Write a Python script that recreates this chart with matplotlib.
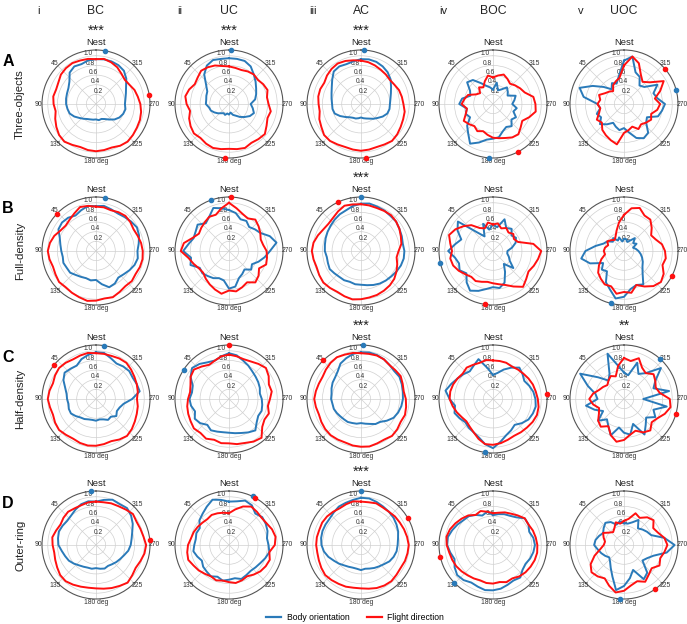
import numpy as np
import matplotlib.pyplot as plt
from matplotlib.lines import Line2D

BLUE = "#2a7ab9"
RED = "#ff1010"
INK = "#222222"
GRID = "#d0d0d0"

columns = ["BC", "UC", "AC", "BOC", "UOC"]
numerals = ["i", "ii", "iii", "iv", "v"]
rows = ["Three-objects", "Full-density", "Half-density", "Outer-ring"]
row_letters = ["A", "B", "C", "D"]
theta_ticks = [45, 90, 135, 180, 225, 270, 315]
theta_labels = ["45", "90", "135", "180 deg", "225", "270", "315"]

# normalised density, one value every 10 deg, counter-clockwise from Nest
a_bc_body = [0.93, 0.92, 0.88, 0.9, 0.85, 0.72, 0.66, 0.64, 0.63, 0.62, 0.6, 0.58, 0.52, 0.45, 0.4, 0.36, 0.34, 0.33,
             0.32, 0.34, 0.33, 0.36, 0.42, 0.5, 0.56, 0.6, 0.62, 0.6, 0.62, 0.66, 0.72, 0.82, 0.9, 0.93, 0.94, 0.94]
a_bc_flight = [0.93, 0.95, 0.96, 0.98, 0.97, 0.95, 0.9, 0.88, 0.9, 0.88, 0.85, 0.9, 0.95, 1.0, 1.02, 0.98, 0.95, 0.97,
               0.98, 0.97, 0.96, 1.0, 1.02, 1.0, 0.98, 0.97, 0.95, 0.92, 0.88, 0.85, 0.8, 0.78, 0.82, 0.88, 0.92, 0.95]
a_uc_body = [0.95, 0.95, 0.97, 0.92, 0.8, 0.62, 0.52, 0.5, 0.48, 0.48, 0.42, 0.4, 0.35, 0.3, 0.25, 0.22, 0.24, 0.2,
             0.22, 0.18, 0.24, 0.28, 0.35, 0.42, 0.5, 0.55, 0.5, 0.45, 0.55, 0.6, 0.65, 0.72, 0.8, 0.9, 0.95, 0.95]
a_uc_flight = [0.78, 0.8, 0.85, 0.88, 0.9, 0.85, 0.82, 0.88, 0.92, 0.88, 0.82, 0.88, 0.92, 0.95, 0.92, 0.95, 0.97, 0.95,
               0.93, 0.95, 0.97, 0.93, 0.95, 0.97, 0.9, 0.85, 0.88, 0.82, 0.8, 0.85, 0.82, 0.78, 0.8, 0.78, 0.75, 0.76]
a_ac_body = [0.93, 0.9, 0.88, 0.9, 0.88, 0.78, 0.7, 0.65, 0.62, 0.6, 0.6, 0.58, 0.5, 0.42, 0.36, 0.33, 0.32, 0.3,
             0.28, 0.3, 0.32, 0.35, 0.4, 0.45, 0.52, 0.58, 0.6, 0.6, 0.62, 0.66, 0.72, 0.8, 0.86, 0.9, 0.93, 0.94]
a_ac_flight = [0.9, 0.92, 0.95, 0.97, 0.95, 0.92, 0.88, 0.9, 0.9, 0.88, 0.87, 0.92, 0.95, 1.0, 1.0, 0.97, 0.95, 0.96,
               0.97, 0.96, 0.95, 0.97, 1.0, 0.98, 0.95, 0.93, 0.92, 0.88, 0.86, 0.84, 0.8, 0.78, 0.8, 0.82, 0.85, 0.88]
a_boc_body = [0.3, 0.35, 0.4, 0.5, 0.65, 0.7, 0.55, 0.5, 0.65, 0.7, 0.55, 0.6, 0.55, 0.7, 0.8, 0.95, 0.85, 0.75,
              0.72, 0.7, 0.6, 0.55, 0.6, 0.5, 0.55, 0.45, 0.5, 0.4, 0.45, 0.5, 0.35, 0.4, 0.45, 0.35, 0.3, 0.45]
a_boc_flight = [0.55, 0.6, 0.5, 0.4, 0.45, 0.35, 0.4, 0.55, 0.6, 0.65, 0.55, 0.6, 0.7, 0.65, 0.6, 0.65, 0.6, 0.65,
                0.7, 0.72, 0.75, 0.8, 0.82, 0.75, 0.7, 0.8, 0.9, 0.88, 0.85, 0.7, 0.65, 0.6, 0.55, 0.6, 0.65, 0.6]
a_uoc_body = [0.9, 0.6, 0.45, 0.5, 0.4, 0.55, 0.75, 0.98, 0.85, 0.55, 0.5, 0.6, 0.55, 0.65, 0.55, 0.45, 0.5, 0.55,
              0.5, 0.6, 0.75, 0.82, 0.78, 0.6, 0.55, 0.75, 0.8, 0.85, 0.7, 0.65, 0.8, 0.55, 0.5, 0.65, 0.7, 1.0]
a_uoc_flight = [0.8, 0.55, 0.5, 0.45, 0.35, 0.4, 0.45, 0.55, 0.5, 0.55, 0.5, 0.55, 0.65, 0.6, 0.7, 0.75, 0.8, 0.85,
                0.6, 0.55, 0.5, 0.6, 0.55, 0.6, 0.65, 0.6, 0.7, 0.75, 0.65, 0.8, 0.95, 0.7, 0.6, 0.7, 0.9, 1.0]

b_bc_body = [0.93, 0.95, 0.9, 0.85, 0.9, 0.92, 0.9, 0.8, 0.75, 0.72, 0.7, 0.72, 0.7, 0.7, 0.65, 0.62, 0.6, 0.62,
             0.6, 0.7, 0.8, 0.78, 0.72, 0.75, 0.8, 0.85, 0.88, 0.86, 0.9, 0.95, 0.98, 0.95, 0.92, 0.9, 0.92, 0.95]
b_bc_flight = [0.92, 0.95, 0.97, 0.9, 0.85, 0.82, 0.85, 0.92, 0.97, 1.0, 0.98, 0.95, 0.97, 1.0, 0.98, 1.0, 1.02, 1.05,
               1.03, 1.0, 1.02, 0.98, 0.95, 0.97, 0.95, 0.97, 0.98, 0.97, 0.95, 0.92, 0.9, 0.93, 0.95, 0.93, 0.9, 0.92]
b_uc_body = [0.85, 0.9, 0.95, 0.82, 0.75, 0.85, 0.8, 0.78, 0.85, 0.95, 0.8, 0.85, 0.7, 0.72, 0.68, 0.65, 0.6, 0.62,
             0.78, 0.75, 0.6, 0.55, 0.5, 0.6, 0.55, 0.65, 0.75, 0.85, 1.0, 0.9, 0.75, 0.7, 0.65, 0.72, 0.7, 0.8]
b_uc_flight = [1.0, 0.9, 0.8, 0.82, 0.78, 0.75, 0.72, 0.8, 0.95, 1.0, 0.85, 0.78, 0.72, 0.7, 0.75, 0.8, 0.85, 0.9,
               0.82, 0.85, 0.8, 0.75, 0.85, 0.8, 0.72, 0.82, 0.8, 0.78, 0.72, 0.7, 0.75, 0.8, 0.85, 0.78, 0.82, 0.9]
b_ac_body = [0.98, 0.95, 0.9, 0.88, 0.85, 0.82, 0.8, 0.78, 0.76, 0.75, 0.72, 0.73, 0.75, 0.72, 0.7, 0.7, 0.68, 0.7,
             0.7, 0.72, 0.75, 0.78, 0.8, 0.82, 0.85, 0.88, 0.9, 0.9, 0.88, 0.9, 0.92, 0.95, 0.95, 0.97, 0.98, 1.0]
b_ac_flight = [0.97, 0.98, 1.0, 0.95, 0.9, 0.88, 0.9, 0.95, 1.0, 1.02, 1.0, 0.98, 1.0, 1.02, 1.0, 0.98, 1.0, 1.02,
               1.0, 0.98, 0.97, 0.95, 0.93, 0.9, 0.85, 0.8, 0.75, 0.78, 0.85, 0.88, 0.92, 0.95, 0.97, 0.96, 0.95, 0.96]
b_boc_body = [0.55, 0.45, 0.6, 0.35, 0.5, 0.95, 0.85, 0.7, 0.8, 0.93, 0.8, 0.75, 0.8, 0.72, 0.85, 0.95, 0.88, 0.8,
              0.75, 0.78, 0.7, 0.5, 0.35, 0.55, 0.4, 0.35, 0.3, 0.3, 0.4, 0.5, 0.55, 0.5, 0.6, 0.55, 0.7, 0.5]
b_boc_flight = [0.55, 0.6, 0.5, 0.55, 0.7, 0.8, 0.9, 0.97, 0.9, 0.85, 0.9, 0.88, 0.82, 0.75, 0.7, 0.72, 0.68, 0.65,
                0.67, 0.7, 0.75, 0.85, 0.97, 0.9, 0.85, 0.9, 0.95, 1.0, 0.85, 0.55, 0.5, 0.55, 0.5, 0.55, 0.5, 0.58]
b_uoc_body = [0.25, 0.2, 0.3, 0.25, 0.35, 0.3, 0.4, 0.45, 0.6, 0.8, 0.9, 0.75, 0.5, 0.6, 0.55, 0.75, 0.85, 1.0,
              0.95, 0.8, 0.75, 0.8, 0.6, 0.5, 0.45, 0.4, 0.35, 0.3, 0.25, 0.2, 0.3, 0.25, 0.35, 0.25, 0.2, 0.25]
b_uoc_flight = [0.75, 0.6, 0.45, 0.35, 0.3, 0.35, 0.4, 0.35, 0.4, 0.42, 0.4, 0.5, 0.6, 0.7, 0.75, 0.8, 0.78, 0.9,
                0.85, 0.88, 0.75, 0.85, 0.95, 1.0, 0.95, 0.85, 0.88, 0.85, 0.8, 0.7, 0.65, 0.75, 0.85, 0.85, 0.95, 0.9]

c_bc_body = [0.97, 0.93, 0.88, 0.8, 0.82, 0.85, 0.78, 0.68, 0.62, 0.6, 0.58, 0.6, 0.6, 0.55, 0.5, 0.48, 0.45, 0.44,
             0.45, 0.43, 0.45, 0.5, 0.48, 0.55, 0.5, 0.52, 0.58, 0.75, 0.92, 0.9, 0.88, 0.9, 0.88, 0.85, 0.9, 0.97]
c_bc_flight = [0.95, 0.97, 0.96, 0.95, 0.98, 1.0, 0.98, 0.95, 0.98, 1.0, 0.97, 0.95, 0.98, 1.0, 0.97, 0.95, 0.97, 0.98,
               0.97, 0.95, 0.93, 0.97, 1.0, 0.97, 0.93, 0.9, 0.88, 0.85, 0.88, 0.9, 0.92, 0.95, 0.98, 0.97, 0.95, 0.95]
c_uc_body = [0.95, 0.9, 0.85, 0.88, 0.95, 1.0, 0.92, 0.8, 0.78, 0.82, 0.8, 0.75, 0.82, 0.78, 0.7, 0.75, 0.72, 0.7,
             0.7, 0.72, 0.75, 0.8, 0.85, 0.75, 0.7, 0.72, 0.7, 0.68, 0.65, 0.68, 0.7, 0.72, 0.75, 0.8, 0.85, 0.92]
c_uc_flight = [0.92, 0.9, 0.85, 0.82, 0.88, 0.95, 0.92, 0.85, 0.82, 0.85, 0.88, 0.9, 0.92, 0.95, 0.92, 0.95, 0.9, 0.93,
               0.92, 0.95, 0.97, 1.02, 1.05, 0.9, 0.85, 0.88, 0.82, 0.85, 0.9, 0.88, 0.95, 1.0, 0.95, 0.9, 0.88, 0.9]
c_ac_body = [0.97, 0.95, 0.9, 0.85, 0.75, 0.7, 0.68, 0.65, 0.62, 0.62, 0.6, 0.6, 0.58, 0.56, 0.55, 0.55, 0.53, 0.52,
             0.5, 0.52, 0.55, 0.6, 0.62, 0.7, 0.78, 0.82, 0.85, 0.87, 0.88, 0.9, 0.92, 0.9, 0.92, 0.95, 0.97, 0.98]
c_ac_flight = [0.95, 0.97, 0.98, 1.0, 0.98, 0.95, 0.92, 0.93, 0.95, 0.97, 0.95, 0.93, 0.95, 0.97, 0.98, 0.97, 0.96, 0.98,
               0.99, 1.0, 0.98, 0.97, 1.0, 0.98, 0.95, 0.97, 0.95, 0.93, 0.9, 0.92, 0.95, 0.93, 0.92, 0.95, 0.96, 0.95]
c_boc_body = [0.5, 0.65, 0.88, 0.8, 0.75, 0.8, 0.85, 0.92, 1.0, 0.9, 0.8, 0.85, 0.8, 0.75, 0.78, 0.8, 0.85, 0.95,
              1.02, 0.9, 0.8, 0.75, 0.7, 0.78, 0.85, 0.88, 0.9, 0.88, 0.85, 0.8, 0.75, 0.8, 0.85, 0.75, 0.65, 0.55]
c_boc_flight = [0.8, 0.82, 0.8, 0.82, 0.85, 0.82, 0.85, 0.88, 0.9, 0.9, 0.85, 0.8, 0.75, 0.72, 0.75, 0.8, 0.88, 0.95,
                0.95, 0.93, 0.9, 0.88, 0.9, 0.92, 0.95, 0.97, 0.96, 0.93, 0.9, 0.88, 0.85, 0.82, 0.8, 0.78, 0.8, 0.8]
c_uoc_body = [0.55, 0.7, 1.0, 0.6, 0.5, 0.7, 1.05, 0.8, 0.6, 0.55, 0.8, 0.65, 0.5, 0.7, 0.55, 0.65, 0.8, 0.6,
              0.7, 0.75, 0.55, 0.85, 0.7, 0.6, 0.75, 0.65, 0.9, 0.4, 0.95, 0.65, 0.75, 1.0, 0.7, 0.6, 0.8, 0.5]
c_uoc_flight = [0.85, 0.7, 0.5, 0.55, 0.5, 0.45, 0.5, 0.55, 0.65, 0.72, 0.65, 0.55, 0.6, 0.7, 0.75, 0.65, 0.8, 0.9,
                0.85, 0.75, 0.7, 0.8, 0.85, 0.75, 0.8, 0.9, 0.98, 0.95, 0.75, 0.7, 0.75, 0.8, 0.7, 0.75, 0.9, 0.8]

d_bc_body = [0.9, 0.92, 0.9, 0.85, 0.8, 0.78, 0.8, 0.82, 0.8, 0.78, 0.72, 0.68, 0.65, 0.6, 0.55, 0.52, 0.5, 0.5,
             0.48, 0.5, 0.52, 0.5, 0.52, 0.55, 0.58, 0.62, 0.68, 0.72, 0.75, 0.8, 0.88, 0.95, 1.0, 0.98, 1.0, 0.95]
d_bc_flight = [0.9, 0.9, 0.88, 0.88, 0.9, 0.88, 0.85, 0.88, 0.92, 0.9, 0.88, 0.9, 0.93, 0.97, 0.98, 0.95, 0.92, 0.9,
               0.9, 0.92, 0.95, 0.98, 1.02, 0.98, 0.95, 0.98, 1.02, 1.04, 1.0, 0.98, 0.97, 1.0, 0.96, 0.93, 0.92, 0.9]
d_uc_body = [0.9, 0.95, 1.0, 0.92, 0.85, 0.8, 0.7, 0.72, 0.7, 0.72, 0.75, 0.7, 0.65, 0.7, 0.72, 0.75, 0.7, 0.75,
             0.72, 0.7, 0.75, 0.72, 0.7, 0.72, 0.75, 0.8, 0.85, 0.82, 0.8, 0.85, 0.88, 0.9, 0.85, 0.95, 0.98, 0.92]
d_uc_flight = [0.66, 0.68, 0.7, 0.72, 0.7, 0.72, 0.75, 0.78, 0.8, 0.85, 0.88, 0.9, 0.85, 0.82, 0.78, 0.75, 0.78, 0.75,
               0.77, 0.8, 0.78, 0.75, 0.8, 0.85, 0.88, 0.9, 0.85, 0.95, 0.98, 0.95, 0.9, 0.88, 0.9, 0.92, 0.85, 0.75]
d_ac_body = [0.98, 0.95, 0.93, 0.92, 0.88, 0.85, 0.85, 0.85, 0.84, 0.82, 0.78, 0.72, 0.65, 0.6, 0.55, 0.52, 0.5, 0.5,
             0.52, 0.5, 0.52, 0.55, 0.58, 0.62, 0.68, 0.72, 0.75, 0.76, 0.78, 0.82, 0.85, 0.88, 0.9, 0.92, 0.95, 0.98]
d_ac_flight = [0.9, 0.92, 0.9, 0.88, 0.9, 0.92, 0.93, 0.92, 0.93, 0.93, 0.92, 0.93, 0.95, 0.97, 0.95, 0.93, 0.92, 0.9,
               0.9, 0.92, 0.95, 0.97, 0.98, 0.96, 0.95, 0.97, 0.98, 0.99, 0.97, 0.95, 0.93, 0.92, 0.9, 0.9, 0.92, 0.9]
d_boc_body = [0.62, 0.7, 0.65, 0.72, 0.78, 0.8, 0.85, 0.9, 0.95, 0.95, 0.9, 0.85, 0.92, 0.97, 0.95, 0.9, 0.92, 0.95,
              0.94, 0.92, 0.88, 0.85, 0.88, 0.8, 0.78, 0.82, 0.85, 0.87, 0.85, 0.8, 0.85, 0.86, 0.75, 0.7, 0.68, 0.65]
d_boc_flight = [0.66, 0.7, 0.75, 0.72, 0.8, 0.85, 0.9, 0.95, 0.98, 0.96, 0.92, 0.9, 0.88, 0.85, 0.82, 0.8, 0.78, 0.8,
                0.8, 0.78, 0.82, 0.8, 0.85, 0.88, 0.9, 0.92, 0.93, 0.92, 0.9, 0.88, 0.85, 0.86, 0.8, 0.75, 0.72, 0.68]
d_uoc_body = [0.45, 0.5, 0.45, 0.55, 0.6, 0.55, 0.5, 0.55, 0.6, 0.62, 0.55, 0.5, 0.45, 0.4, 0.45, 0.55, 0.7, 0.95,
              0.85, 0.7, 0.55, 0.82, 0.75, 0.5, 0.55, 0.65, 0.9, 1.05, 0.85, 0.6, 0.55, 0.5, 0.45, 0.6, 0.5, 0.45]
d_uoc_flight = [0.5, 0.45, 0.5, 0.4, 0.35, 0.4, 0.5, 0.45, 0.4, 0.42, 0.5, 0.65, 0.8, 0.88, 0.85, 0.8, 0.9, 1.0,
                0.95, 0.85, 0.8, 0.88, 0.8, 0.75, 0.85, 0.8, 0.85, 0.9, 0.85, 0.75, 0.7, 0.8, 0.75, 0.65, 0.7, 0.55]

# mean directions (deg, counter-clockwise from Nest)
body_mean = [[350, 358, 357, 176, 285],
             [350, 20, 0, 103, 166],
             [352, 57, 358, 172, 318],
             [5, 334, 0, 134, 176]]
flight_mean = [[280, 176, 185, 208, 310],
               [47, 358, 25, 172, 243],
               [51, 0, 44, 275, 254],
               [275, 331, 300, 103, 215]]
stars = [["***", "***", "***", "", ""],
         ["", "", "***", "", ""],
         ["", "", "***", "", "**"],
         ["", "", "***", "", ""]]

body = [[a_bc_body, a_uc_body, a_ac_body, a_boc_body, a_uoc_body],
        [b_bc_body, b_uc_body, b_ac_body, b_boc_body, b_uoc_body],
        [c_bc_body, c_uc_body, c_ac_body, c_boc_body, c_uoc_body],
        [d_bc_body, d_uc_body, d_ac_body, d_boc_body, d_uoc_body]]
flight = [[a_bc_flight, a_uc_flight, a_ac_flight, a_boc_flight, a_uoc_flight],
          [b_bc_flight, b_uc_flight, b_ac_flight, b_boc_flight, b_uoc_flight],
          [c_bc_flight, c_uc_flight, c_ac_flight, c_boc_flight, c_uoc_flight],
          [d_bc_flight, d_uc_flight, d_ac_flight, d_boc_flight, d_uoc_flight]]

W, H = 687, 624
RMAX = 1.12
col_x = [96, 229, 361, 493, 624]
numeral_x = [38, 180, 313, 443, 581]
row_y = [104, 251, 399, 545]
RAD = 54

plt.rcParams["font.family"] = ["Liberation Sans", "DejaVu Sans"]


def closed(values):
    th = np.deg2rad(np.arange(len(values)) * 360.0 / len(values))
    return np.append(th, th[0]), np.append(values, values[0])


def panel(fig, cx, cy):
    ax = fig.add_axes([(cx - RAD) / W, 1 - (cy + RAD) / H, 2 * RAD / W, 2 * RAD / H], projection="polar")
    ax.set_theta_zero_location("N")
    ax.set_theta_direction(1)
    ax.set_ylim(0, RMAX)
    ax.set_rgrids([0.2, 0.4, 0.6, 0.8, 1.0], labels=["0.2", "0.4", "0.6", "0.8", "1.0"], angle=15,
                  fontsize=4.8, color="#333333")
    ax.set_thetagrids(range(0, 360, 45), labels=[""] * 8)
    ax.grid(color=GRID, linewidth=0.5)
    ax.spines["polar"].set_color("#555555")
    ax.spines["polar"].set_linewidth(0.8)
    for t, lab in zip(theta_ticks, theta_labels):
        ax.text(np.deg2rad(t), 1.2, lab, ha="center", va="center", fontsize=4.9, color="#333333", clip_on=False)
    return ax


fig = plt.figure(figsize=(W / 100, H / 100), dpi=100)

for i in range(4):
    for j in range(5):
        ax = panel(fig, col_x[j], row_y[i])
        th, r = closed(body[i][j])
        ax.plot(th, r, color=BLUE, lw=1.4, zorder=3)
        th, r = closed(flight[i][j])
        ax.plot(th, r, color=RED, lw=1.4, zorder=4)
        ax.plot(np.deg2rad(body_mean[i][j]), RMAX, "o", color=BLUE, ms=3.0, clip_on=False, zorder=5)
        ax.plot(np.deg2rad(flight_mean[i][j]), RMAX, "o", color=RED, ms=3.0, clip_on=False, zorder=5)
        nest = ax.text(0.5, 1.03, "Nest", transform=ax.transAxes, ha="center", va="bottom", fontsize=6.8,
                       color=INK)
        if stars[i][j]:
            ax.annotate(stars[i][j], xy=(0.5, 1.0), xycoords=nest, ha="center", va="bottom",
                        fontsize=10.5, color=INK)

for j in range(5):
    fig.text(col_x[j] / W, 1 - 11 / H, columns[j], ha="center", va="center", fontsize=8.8, color=INK)
    fig.text(numeral_x[j] / W, 1 - 11 / H, numerals[j], ha="center", va="center", fontsize=8, color=INK)

for i in range(4):
    fig.text(8 / W, 1 - (row_y[i] - 42) / H, row_letters[i], ha="center", va="center", fontsize=11.5,
             fontweight="bold", color="black")
    fig.text(20 / W, 1 - row_y[i] / H, rows[i], ha="center", va="center", rotation=90, fontsize=8.2, color=INK)

handles = [Line2D([0], [0], color=BLUE, lw=1.6), Line2D([0], [0], color=RED, lw=1.6)]
fig.legend(handles, ["Body orientation", "Flight direction"], loc="center", bbox_to_anchor=(355 / W, 1 - 618 / H),
           ncol=2, frameon=False, fontsize=6.2, handlelength=1.8, handletextpad=0.6, columnspacing=2.0)

fig.savefig("out.png", dpi=100)
